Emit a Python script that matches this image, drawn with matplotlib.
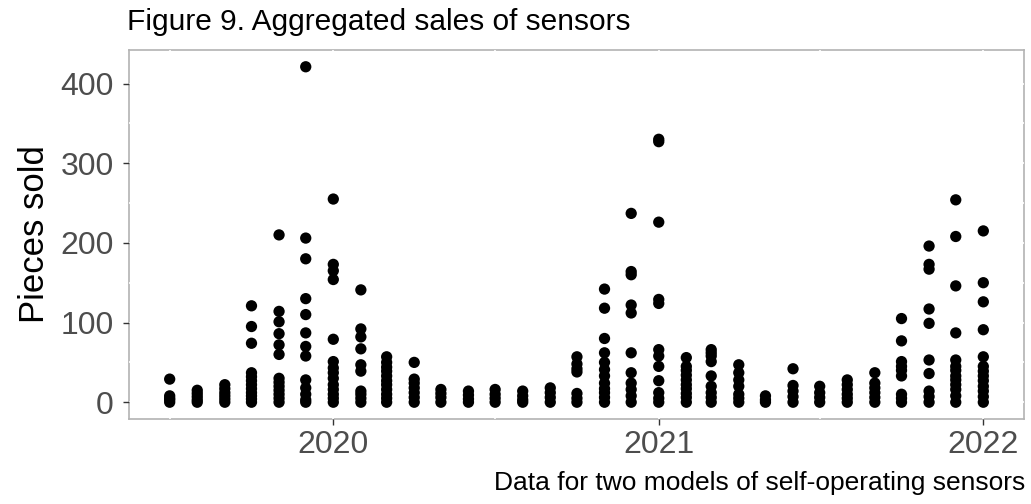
import matplotlib.pyplot as plt
import matplotlib.dates as mdates
from matplotlib.ticker import MultipleLocator
import numpy as np
import pandas as pd

plt.rcParams["font.family"] = ["Liberation Sans", "DejaVu Sans"]

# monthly sales points (two sensor models, many rows per month)
months = pd.date_range("2019-07-01", "2022-01-01", freq="MS")
sales_by_month = [
    [29, 8, 5, 3, 0],                                      # 2019-07
    [15, 11, 7, 3, 0],                                     # 2019-08
    [22, 17, 12, 8, 4, 0],                                 # 2019-09
    [121, 95, 74, 37, 32, 27, 22, 17, 12, 8, 4, 0],        # 2019-10
    [210, 114, 101, 86, 72, 60, 30, 25, 20, 15, 10, 5, 0], # 2019-11
    [421, 206, 180, 130, 110, 87, 70, 58, 28, 18, 10, 3, 0],
    [255, 173, 165, 154, 79, 51, 43, 37, 30, 22, 16, 10, 5, 0],  # 2020-01
    [141, 92, 82, 67, 47, 39, 14, 10, 5, 0],
    [57, 50, 44, 39, 33, 27, 22, 16, 10, 5, 0],
    [50, 29, 24, 18, 12, 6, 0],
    [16, 11, 6, 0],
    [14, 9, 4, 0],
    [16, 10, 5, 0],
    [14, 8, 3, 0],
    [18, 12, 6, 0],
    [57, 48, 42, 38, 11, 5, 0],
    [142, 118, 80, 62, 50, 41, 33, 24, 17, 12, 6, 0],
    [237, 164, 160, 122, 112, 62, 37, 24, 16, 8, 0],
    [330, 327, 226, 129, 124, 66, 58, 45, 27, 12, 5, 0],   # 2021-01
    [56, 45, 40, 34, 28, 22, 17, 11, 6, 0],
    [66, 62, 58, 51, 33, 20, 12, 6, 0],
    [47, 37, 28, 20, 10, 5, 0],
    [8, 3, 0],
    [42, 21, 14, 7, 0],
    [20, 12, 6, 0],
    [28, 22, 16, 10, 5, 0],
    [37, 24, 18, 12, 6, 0],
    [105, 77, 51, 45, 40, 33, 10, 5, 0],
    [196, 173, 167, 117, 99, 53, 36, 14, 7, 0],
    [254, 208, 146, 87, 53, 45, 40, 33, 28, 22, 16, 8, 0],
    [215, 150, 126, 91, 57, 45, 39, 33, 27, 20, 14, 7, 0],  # 2022-01
]
year_ticks = ["2020", "2021", "2022"]
y_ticks = [0, 100, 200, 300, 400]

title = "Figure 9. Aggregated sales of sensors"
caption = "Data for two models of self-operating sensors"

dates = np.concatenate([[m] * len(v) for m, v in zip(months, sales_by_month)])
values = np.concatenate(sales_by_month)

fig = plt.figure(figsize=(10.31, 5.04), dpi=100)
ax = fig.add_axes([129 / 1031, 1 - 419 / 504, (1024 - 129) / 1031, (419 - 50) / 504])

ax.scatter(dates, values, s=66, color="black", edgecolor="none", zorder=3)

# ggplot-like expansion of 5% on both axes
x0, x1 = mdates.date2num(months[0]), mdates.date2num(months[-1])
xpad = (x1 - x0) * 0.05
ax.set_xlim(x0 - xpad, x1 + xpad)
ymax = max(values)
ax.set_ylim(-ymax * 0.05, ymax * 1.05)

ax.set_xticks([mdates.date2num(pd.Timestamp(y + "-01-01")) for y in year_ticks], year_ticks)
ax.xaxis.set_minor_locator(mdates.MonthLocator(bymonth=7))
ax.set_yticks(y_ticks)
ax.yaxis.set_minor_locator(MultipleLocator(50))

ax.tick_params(which="major", length=4, width=1, color="#333333", labelcolor="#4D4D4D",
               labelsize=23)
ax.tick_params(axis="y", pad=7)
ax.tick_params(axis="x", pad=4)
ax.tick_params(which="minor", length=0)

ax.grid(which="both", color="white", lw=1.2)
ax.set_axisbelow(True)
for sp in ax.spines.values():
    sp.set_color("#B3B3B3")
    sp.set_linewidth(1.2)
    sp.set_zorder(0.4)

ax.set_ylabel("Pieces sold", fontsize=25, color="black", labelpad=7)

fig.text(127 / 1031, 1 - 30 / 504, title, fontsize=21.5, ha="left", va="baseline")
fig.text(1025 / 1031, 1 - 490 / 504, caption, fontsize=19, ha="right", va="baseline")

fig.savefig("out.png", dpi=100)
plt.close(fig)
